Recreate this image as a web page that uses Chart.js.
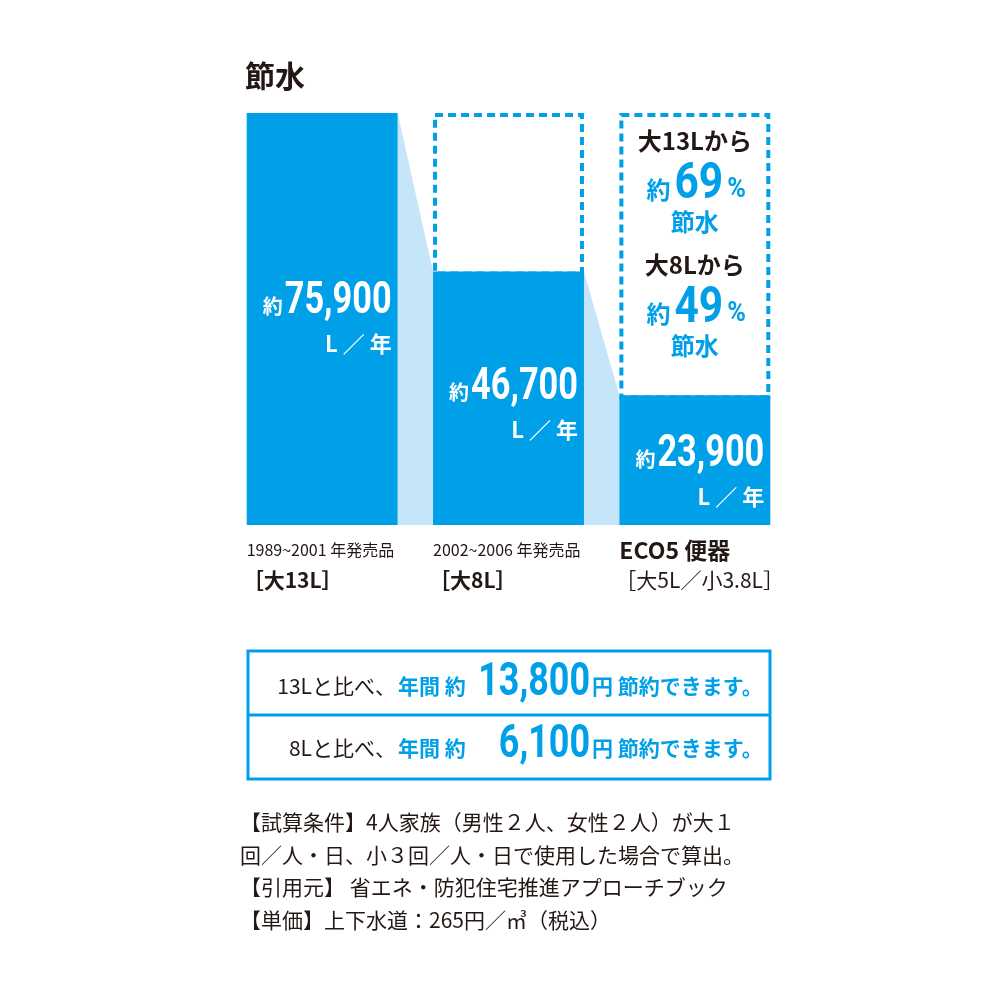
<!DOCTYPE html>
<html><head><meta charset="utf-8">
<script src="https://cdn.jsdelivr.net/npm/chart.js@4"></script>
<style>html,body{margin:0;background:#fff}#c{display:block}</style>
</head><body>
<div style="width:1000px;height:1000px"><canvas id="c"></canvas></div>
<script>
const categories = ['1989~2001 年発売品', '2002~2006 年発売品', 'ECO5 便器'];
const subLabels = ['［大13L］', '［大8L］', '［大5L／小3.8L］'];
const usage = [75900, 46700, 23900];
const savingPct = [69, 49];
const savingYen = ['13,800', '6,100'];

const BLUE = '#00a0e9', LIGHT = '#c4e6f8', DARK = '#231815';
const JP = '"Noto Sans CJK JP", sans-serif';
const NUM = '"Roboto", "Noto Sans CJK JP", sans-serif';

function txt(ctx, s, x, y, font, color, align) {
    ctx.font = font; ctx.fillStyle = color; ctx.textAlign = align || 'left';
    ctx.textBaseline = 'middle'; ctx.fillText(s, x, y);
}
// condensed text: returns drawn width
function ntxt(ctx, s, x, y, size, color, align, sx) {
    sx = sx || 0.78;
    ctx.font = 'bold ' + size + 'px ' + NUM;
    const w = ctx.measureText(s).width * sx;
    let left = x;
    if (align === 'right') left = x - w;
    else if (align === 'center') left = x - w / 2;
    ctx.save();
    ctx.translate(left, y); ctx.scale(sx, 1);
    ctx.fillStyle = color; ctx.textAlign = 'left'; ctx.textBaseline = 'middle';
    ctx.fillText(s, 0, 0);
    ctx.restore();
    return w;
}
function fmt(v) { return v.toLocaleString('en-US'); }

const deco = {
    id: 'deco',
    beforeDatasetsDraw(chart) {
        const ctx = chart.ctx, y = chart.scales.y;
        const bars = chart.getDatasetMeta(0).data;
        ctx.save();
        ctx.fillStyle = LIGHT;
        for (let i = 0; i < bars.length - 1; i++) {
            const a = bars[i], b = bars[i + 1];
            ctx.beginPath();
            ctx.moveTo(a.x + a.width / 2, a.y);
            ctx.lineTo(b.x - b.width / 2, b.y);
            ctx.lineTo(b.x - b.width / 2, a.base);
            ctx.lineTo(a.x + a.width / 2, a.base);
            ctx.closePath(); ctx.fill();
        }
        const top = y.getPixelForValue(usage[0]);
        ctx.strokeStyle = BLUE; ctx.lineWidth = 4; ctx.setLineDash([8, 5]);
        for (let i = 1; i < bars.length; i++) {
            const b = bars[i];
            ctx.strokeRect(b.x - b.width / 2 + 2, top + 2, b.width - 4, b.y - top);
        }
        ctx.restore();
    },
    afterDraw(chart) {
        const ctx = chart.ctx;
        const bars = chart.getDatasetMeta(0).data;
        ctx.save();
        txt(ctx, '節水', 245, 76, 'bold 30px ' + JP, DARK);
        bars.forEach((b, i) => {
            const r = b.x + b.width / 2 - 6;
            const ny = [302, 388, 455][i];
            const w = ntxt(ctx, fmt(usage[i]), r, ny, 44, '#fff', 'right');
            txt(ctx, '約', r - w - 2, ny + 4, 'bold 20px ' + JP, '#fff', 'right');
            txt(ctx, 'L ／ 年', r, ny + 42, 'bold 22px ' + JP, '#fff', 'right');
            const l = b.x - b.width / 2;
            if (i < 2) txt(ctx, categories[i], l, 550, '16px ' + JP, DARK);
            else txt(ctx, categories[i], l, 550, 'bold 23px ' + JP, DARK);
            txt(ctx, subLabels[i], l - 4, 580, (i < 2 ? 'bold ' : '') + '21px ' + JP, DARK);
        });
        const cx = bars[2].x;
        const heads = ['大13Lから', '大8Lから'];
        [0, 1].forEach(k => {
            const oy = k * 124;
            txt(ctx, heads[k], cx, 141 + oy, 'bold 24px ' + JP, DARK, 'center');
            const w = ntxt(ctx, String(savingPct[k]), cx + 4, 185 + oy, 50, BLUE, 'center', 0.85);
            txt(ctx, '約', cx + 4 - w / 2 - 4, 190 + oy, 'bold 24px ' + JP, BLUE, 'right');
            ntxt(ctx, '%', cx + 4 + w / 2 + 4, 190 + oy, 28, BLUE, 'left', 0.9);
            txt(ctx, '節水', cx, 222 + oy, 'bold 24px ' + JP, BLUE, 'center');
        });
        ctx.strokeStyle = BLUE; ctx.lineWidth = 3; ctx.setLineDash([]);
        ctx.strokeRect(248, 651, 522, 128);
        ctx.beginPath(); ctx.moveTo(248, 715); ctx.lineTo(770, 715); ctx.stroke();
        [['13Lと比べ、', 686], ['8Lと比べ、', 748]].forEach((row, k) => {
            const y0 = row[1];
            txt(ctx, row[0], 396, y0, '21px ' + JP, DARK, 'right');
            txt(ctx, '年間 約', 398, y0, 'bold 21px ' + JP, BLUE);
            ntxt(ctx, savingYen[k], 590, y0 - 3, 46, BLUE, 'right', 0.78);
            txt(ctx, '円 節約できます。', 592, y0, 'bold 21px ' + JP, BLUE);
        });
        const notes = ['【試算条件】4人家族（男性２人、女性２人）が大１',
            '回／人・日、小３回／人・日で使用した場合で算出。',
            '【引用元】 省エネ・防犯住宅推進アプローチブック',
            '【単価】上下水道：265円／㎥（税込）'];
        notes.forEach((s, i) => txt(ctx, s, 240, [822, 855, 887, 920][i], '21px ' + JP, DARK));
        ctx.restore();
    }
};

new Chart(document.getElementById('c'), {
    type: 'bar',
    data: {
        labels: categories,
        datasets: [{ data: usage, backgroundColor: BLUE, borderWidth: 0,
            barPercentage: 0.81, categoryPercentage: 1 }]
    },
    options: {
        responsive: true, maintainAspectRatio: false, animation: false,
        layout: { padding: { left: 229, right: 212, top: 113, bottom: 475 } },
        scales: {
            x: { display: false },
            y: { display: false, min: 0, max: usage[0] }
        },
        plugins: { legend: { display: false }, tooltip: { enabled: false } }
    },
    plugins: [deco]
});
</script>
</body></html>
